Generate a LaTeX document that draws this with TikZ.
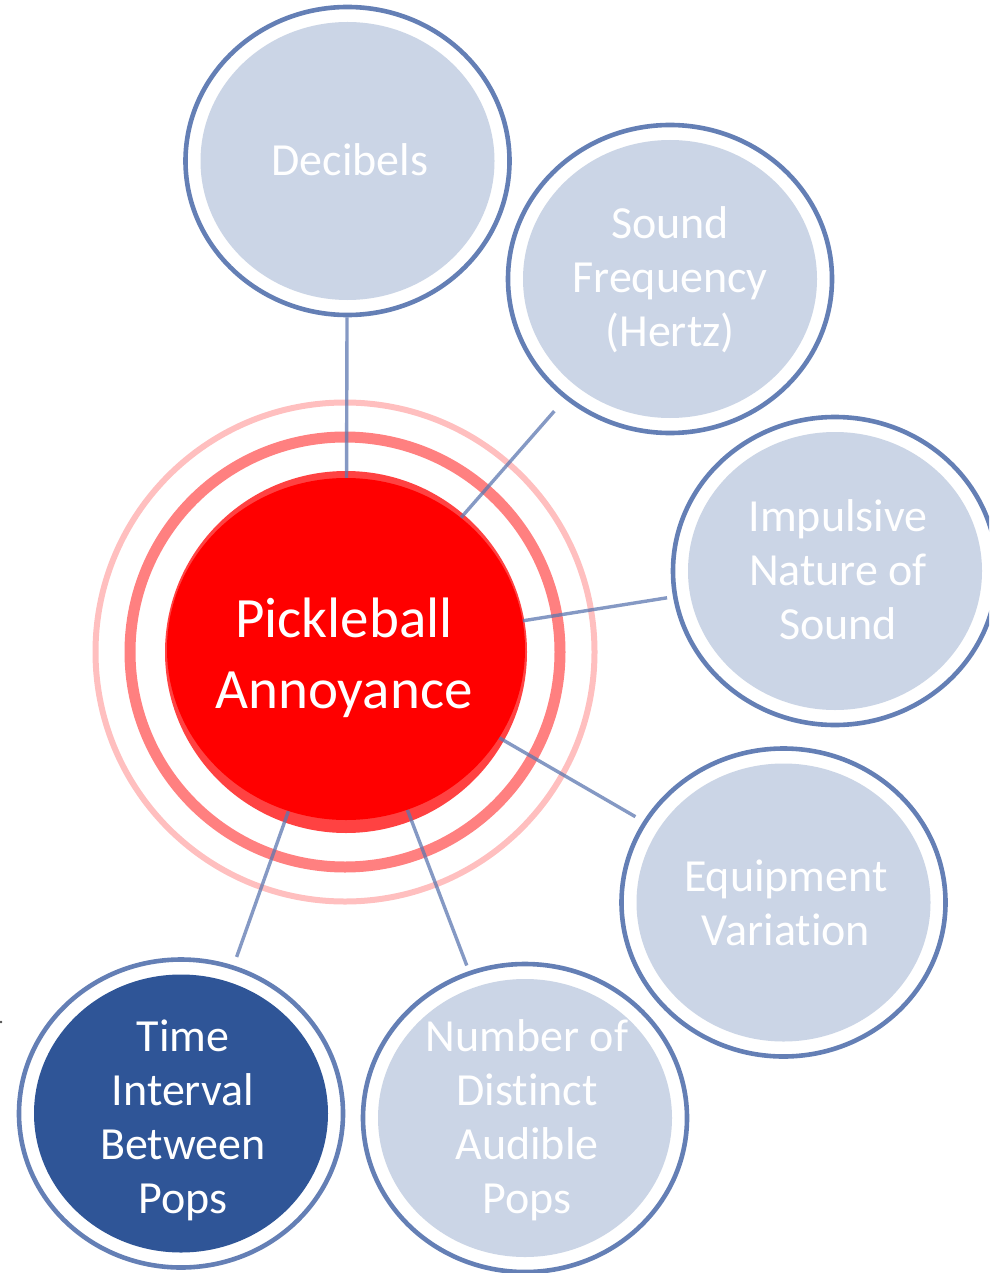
\documentclass[tikz,border=0pt]{standalone}
\usepackage{fontspec}
\setmainfont{Carlito}[Ligatures=NoCommon]
\usetikzlibrary{shapes.geometric}

\definecolor{satline}{RGB}{100,127,181}
\definecolor{satfill}{RGB}{203,213,230}
\definecolor{satdark}{RGB}{47,85,151}
\definecolor{link}{RGB}{92,119,176}
\definecolor{ringmid}{RGB}{255,128,128}
\definecolor{ringout}{RGB}{255,191,191}
\definecolor{corerim}{RGB}{255,66,66}
\definecolor{corered}{RGB}{255,0,0}

\tikzset{
  sat/.style={ellipse, draw=satline, line width=4.6pt, fill=white, inner sep=0pt,
    minimum width=324pt, minimum height=308pt,
    path picture={\fill[#1] (path picture bounding box.center)
      ellipse [x radius=147pt, y radius=139pt];}},
  sat/.default=satfill,
  lbl/.style={text=white, align=center, inner sep=0pt,
    font=\fontsize{46}{54}\selectfont},
  corelbl/.style={text=white, align=center, inner sep=0pt,
    font=\fontsize{57}{71}\selectfont},
  link/.style={draw=link, line width=3.4pt, draw opacity=0.75},
}

\begin{document}
\begin{tikzpicture}[x=1pt, y=-1pt]
  \useasboundingbox (0,0) rectangle (989,1273);
  \clip (0,0) rectangle (989,1273);

  % halo rings around the central topic
  \draw[ringout, line width=6pt] (345,652) circle [radius=249.5pt];
  \draw[ringmid, line width=11pt] (345,652) circle [radius=215pt];
  \fill[corerim] (346,652) circle [radius=181pt];

  % central topic
  \node[ellipse, inner sep=0pt, minimum width=358pt, minimum height=342pt] (core) at (346,649) {};

  % surrounding factors
  \node[sat] (dec) at (347.5,161) {};
  \node[sat] (freq) at (670,279) {};
  \node[sat] (imp) at (835,571) {};
  \node[sat] (equip) at (783.5,902.5) {};
  \node[sat] (num) at (525,1118) {};
  \node[sat=satdark] (time) at (181,1113.5) {};

  % spokes from each factor to the central topic
  \draw[link] (dec) -- (core);
  \draw[link, shorten <=16pt] (freq) -- (core);
  \draw[link, shorten <=6pt] (imp) -- (core);
  \draw[link, shorten <=9pt] (equip) -- (core);
  \draw[link, shorten <=6pt] (num) -- (core);
  \draw[link, shorten <=9pt] (time) -- (core);

  \fill[corered] (core.center) ellipse [x radius=179pt, y radius=171pt];

  % labels
  \node[corelbl] (core-t) at (344,658) {Pickleball\\Annoyance};
  \node[lbl] (dec-t) at (350,160) {Decibels};
  \node[lbl] (freq-t) at (670,280) {Sound\\Frequency\\(Hertz)};
  \node[lbl] (imp-t) at (838,570) {Impulsive\\Nature of\\Sound};
  \node[lbl] (equip-t) at (786,903) {Equipment\\Variation};
  \node[lbl] (num-t) at (527,1120) {Number of\\Distinct\\Audible\\Pops};
  \node[lbl] (time-t) at (183,1120) {Time\\Interval\\Between\\Pops};

  % small stray mark at the left edge
  \fill[black!70] (1,1022) circle [radius=1.3pt];
\end{tikzpicture}
\end{document}
